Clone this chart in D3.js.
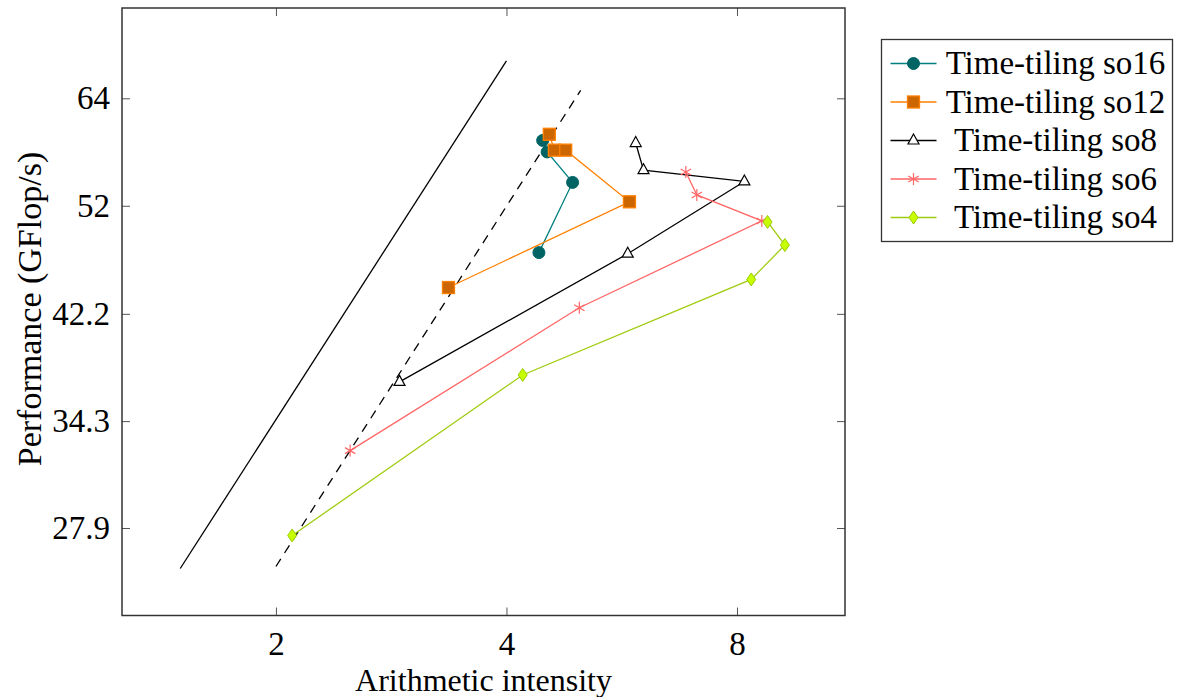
<!DOCTYPE html>
<html>
<head>
<meta charset="utf-8">
<script src="https://cdn.jsdelivr.net/npm/d3@7"></script>
<style>
  body { margin: 0; background: #fff; }
  svg text { font-family: "Liberation Serif", "Times New Roman", serif; fill: #000; }
</style>
</head>
<body>
<svg width="1183" height="697"></svg>
<script>
// roofline lines (bandwidth bounds)
const roofSolidX = [1.5, 4];
const roofSolidY = [25.8, 68.8];
const roofDashX = [2, 5];
const roofDashY = [25.9, 65.0];

// measured points, in plotting order
const so16X = [4.46, 4.52, 4.88, 4.41];
const so16Y = [59.0, 57.7, 54.4, 47.5];
const so12X = [4.55, 4.62, 4.78, 5.79, 3.36];
const so12Y = [59.7, 57.9, 57.9, 52.4, 44.4];
const so8X = [5.90, 6.04, 8.18, 5.76, 2.90];
const so8Y = [58.7, 55.7, 54.5, 47.4, 37.0];
const so6X = [6.86, 7.09, 8.62, 4.98, 2.50];
const so6Y = [55.5, 53.1, 50.5, 42.7, 32.4];
const so4X = [8.77, 9.24, 8.35, 4.20, 2.10];
const so4Y = [50.4, 48.2, 45.1, 37.5, 27.5];

const xTicks = [2, 4, 8];
const yTicks = [27.9, 34.3, 42.2, 52, 64];
const seriesNames = ["Time-tiling so16", "Time-tiling so12", "Time-tiling so8", "Time-tiling so6", "Time-tiling so4"];

const series = [
  {name: seriesNames[0], xs: so16X, ys: so16Y, line: "#008080", marker: "circle", fill: "#006464", stroke: "#006464"},
  {name: seriesNames[1], xs: so12X, ys: so12Y, line: "#ff8000", marker: "square", fill: "#cc6600", stroke: "#ff8000"},
  {name: seriesNames[2], xs: so8X, ys: so8Y, line: "#000000", marker: "triangle", fill: "#ffffff", stroke: "#000000"},
  {name: seriesNames[3], xs: so6X, ys: so6Y, line: "#ff6666", marker: "asterisk", fill: "none", stroke: "#ff6666"},
  {name: seriesNames[4], xs: so4X, ys: so4Y, line: "#a0cc10", marker: "diamond", fill: "#c8ff00", stroke: "#99cc00"}
];

const svg = d3.select("svg"),
      margin = {top: 8, left: 122},
      width = 723,
      height = 607.5;

const g = svg.append("g")
  .attr("transform", `translate(${margin.left},${margin.top})`);

const x = d3.scaleLog().base(2).domain([1.259, 11.07]).range([0, width]);
const y = d3.scaleLog().base(2).domain([23.56, 76.2]).range([height, 0]);

// axes with inward ticks on all four sides
const fmt = d => String(d);
const xb = g.append("g").attr("transform", `translate(0,${height})`)
  .call(d3.axisBottom(x).tickValues(xTicks).tickFormat(fmt).tickSizeInner(-8).tickSizeOuter(0).tickPadding(16));
const xt = g.append("g")
  .call(d3.axisTop(x).tickValues(xTicks).tickFormat("").tickSizeInner(-8).tickSizeOuter(0));
const yl = g.append("g")
  .call(d3.axisLeft(y).tickValues(yTicks).tickFormat(fmt).tickSizeInner(-8).tickSizeOuter(0).tickPadding(12));
const yr = g.append("g").attr("transform", `translate(${width},0)`)
  .call(d3.axisRight(y).tickValues(yTicks).tickFormat("").tickSizeInner(-8).tickSizeOuter(0));
[xb, xt, yl, yr].forEach(a => {
  a.attr("font-family", null);
  a.select(".domain").remove();
  a.selectAll("line").attr("stroke", "#555").attr("stroke-width", 1);
  a.selectAll("text").style("font-size", "33px").attr("fill", "#000");
});

g.append("rect")
  .attr("width", width).attr("height", height)
  .attr("fill", "none").attr("stroke", "#333").attr("stroke-width", 1.5);

svg.append("text")
  .attr("text-anchor", "middle")
  .attr("x", margin.left + width / 2)
  .attr("y", 691)
  .style("font-size", "32px")
  .text("Arithmetic intensity");

svg.append("text")
  .attr("text-anchor", "middle")
  .attr("transform", "rotate(-90)")
  .attr("x", -309)
  .attr("y", 41)
  .style("font-size", "34px")
  .text("Performance (GFlop/s)");

// roofline lines
const line = d3.line().x(d => x(d[0])).y(d => y(d[1]));
const plot = g.append("g");
plot.append("path")
  .attr("d", line(d3.zip(roofSolidX, roofSolidY)))
  .attr("fill", "none").attr("stroke", "#000").attr("stroke-width", 1.3);
plot.append("path")
  .attr("d", line(d3.zip(roofDashX, roofDashY)))
  .attr("fill", "none").attr("stroke", "#000").attr("stroke-width", 1.3)
  .attr("stroke-dasharray", "9,7");

function drawMarker(sel, s, cx, cy) {
  const m = sel.append("g").attr("transform", `translate(${cx},${cy})`);
  if (s.marker === "circle") {
    m.append("circle").attr("r", 6).attr("fill", s.fill).attr("stroke", s.stroke);
  } else if (s.marker === "square") {
    m.append("rect").attr("x", -6).attr("y", -6).attr("width", 12).attr("height", 12)
      .attr("fill", s.fill).attr("stroke", s.stroke).attr("stroke-width", 1.3);
  } else if (s.marker === "triangle") {
    m.append("path").attr("d", "M0,-6.5L5.5,3.5L-5.5,3.5Z")
      .attr("fill", s.fill).attr("stroke", s.stroke).attr("stroke-width", 1.2);
  } else if (s.marker === "asterisk") {
    const r = 6;
    let d = "";
    for (let k = 0; k < 3; k++) {
      const a = Math.PI / 2 + k * Math.PI / 3;
      d += `M${-r * Math.cos(a)},${-r * Math.sin(a)}L${r * Math.cos(a)},${r * Math.sin(a)}`;
    }
    m.append("path").attr("d", d).attr("stroke", s.stroke).attr("stroke-width", 1.2);
  } else if (s.marker === "diamond") {
    m.append("path").attr("d", "M0,-6.5L4.5,0L0,6.5L-4.5,0Z")
      .attr("fill", s.fill).attr("stroke", s.stroke).attr("stroke-width", 1);
  }
}

series.forEach(s => {
  const pts = d3.zip(s.xs, s.ys);
  plot.append("path")
    .attr("d", line(pts))
    .attr("fill", "none").attr("stroke", s.line).attr("stroke-width", 1.3);
  pts.forEach(p => drawMarker(plot, s, x(p[0]), y(p[1])));
});

// legend
const legend = svg.append("g").attr("transform", "translate(881.5,39.5)");
legend.append("rect")
  .attr("width", 291).attr("height", 202)
  .attr("fill", "#fff").attr("stroke", "#333").attr("stroke-width", 1.3);
series.forEach((s, i) => {
  const ly = 24 + i * 38.5;
  legend.append("line")
    .attr("x1", 9).attr("x2", 55).attr("y1", ly).attr("y2", ly)
    .attr("stroke", s.line).attr("stroke-width", 1.3);
  drawMarker(legend, s, 32, ly);
  legend.append("text")
    .attr("x", 174).attr("y", ly)
    .attr("dy", "0.33em")
    .attr("text-anchor", "middle")
    .style("font-size", "33px")
    .text(s.name);
});
</script>
</body>
</html>
